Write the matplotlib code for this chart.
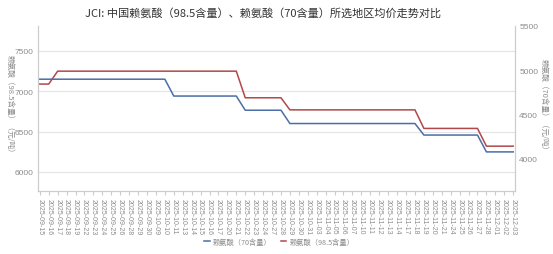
import matplotlib
matplotlib.use("Agg")
import matplotlib.pyplot as plt

plt.rcParams['font.family'] = ['Noto Sans CJK SC', 'DejaVu Sans']

dates = ["2025-09-15","2025-09-16","2025-09-17","2025-09-18","2025-09-19","2025-09-22","2025-09-23",
         "2025-09-24","2025-09-25","2025-09-26","2025-09-28","2025-09-29","2025-09-30","2025-10-09",
         "2025-10-10","2025-10-11","2025-10-13","2025-10-14","2025-10-15","2025-10-16","2025-10-17",
         "2025-10-20","2025-10-21","2025-10-22","2025-10-23","2025-10-24","2025-10-27","2025-10-28",
         "2025-10-29","2025-10-30","2025-10-31","2025-11-03","2025-11-04","2025-11-05","2025-11-06",
         "2025-11-07","2025-11-10","2025-11-11","2025-11-12","2025-11-13","2025-11-14","2025-11-17",
         "2025-11-18","2025-11-19","2025-11-20","2025-11-21","2025-11-24","2025-11-25","2025-11-26",
         "2025-11-27","2025-11-28","2025-12-01","2025-12-02","2025-12-03"]

lys70 = [4900]*15 + [4710]*8 + [4550]*5 + [4400]*15 + [4270]*7 + [4080]*4
lys985 = [7090]*2 + [7250]*21 + [6920]*5 + [6770]*15 + [6540]*7 + [6320]*4

red = "#b0484b"
blue = "#4a6ea6"
grey = "#8c8c8c"

fig = plt.figure(figsize=(5.53, 2.55), dpi=100)
ax = fig.add_axes([38/553, 1-192/255, (515-38)/553, (192-27)/255])
ax2 = ax.twinx()

x = list(range(len(dates)))
l1, = ax2.plot(x, lys70, color=blue, lw=1.1, label="赖氨酸（70含量）")
l2, = ax.plot(x, lys985, color=red, lw=1.1, label="赖氨酸（98.5含量）")

ax.set_xlim(-0.2, len(dates)-0.8)
ax.set_ylim(5764, 7810)
ax2.set_ylim(3639, 5500)
ax.set_yticks([6000, 6500, 7000, 7500])
ax2.set_yticks([4000, 4500, 5000, 5500])
ax.set_xticks(x)
ax.set_xticklabels(dates, rotation=-90, fontsize=5.0, color=grey, family='Liberation Sans')
ax.tick_params(axis='x', length=3, color="#cccccc", pad=2)
ax.tick_params(axis='y', labelsize=6, colors=grey, length=0, pad=3)
ax2.tick_params(axis='y', labelsize=6, colors=grey, length=0, pad=3)
for lab in ax.get_yticklabels() + ax2.get_yticklabels():
    lab.set_family('Liberation Sans')

ax.grid(axis='y', color="#e4e4e4", lw=0.8)
for a in (ax, ax2):
    a.spines['top'].set_visible(False)
    a.spines['left'].set_color("#cccccc")
    a.spines['right'].set_color("#cccccc")
    a.spines['bottom'].set_color("#cccccc")

ax.set_ylabel("赖氨酸（98.5含量）（元/吨）", rotation=-90, fontsize=5.5, color=grey,
              ha='center', va='center')
ax.yaxis.set_label_coords(-0.06, 0.52)
ax2.set_ylabel("赖氨酸（70含量）（元/吨）", rotation=-90, fontsize=5.5, color=grey,
               ha='center', va='center')
ax2.yaxis.set_label_coords(1.06, 0.52)

fig.text(0.475, 1-13/255, "JCI: 中国赖氨酸（98.5含量）、赖氨酸（70含量）所选地区均价走势对比",
         ha='center', va='center', fontsize=8, color="#333333")

fig.legend(handles=[l1, l2], loc='center', bbox_to_anchor=(0.505, 1-243/255), ncol=2,
           frameon=False, fontsize=5.2, handlelength=0.8, columnspacing=1.2, handletextpad=0.4,
           labelcolor=grey)

fig.savefig("out.png", dpi=100)
